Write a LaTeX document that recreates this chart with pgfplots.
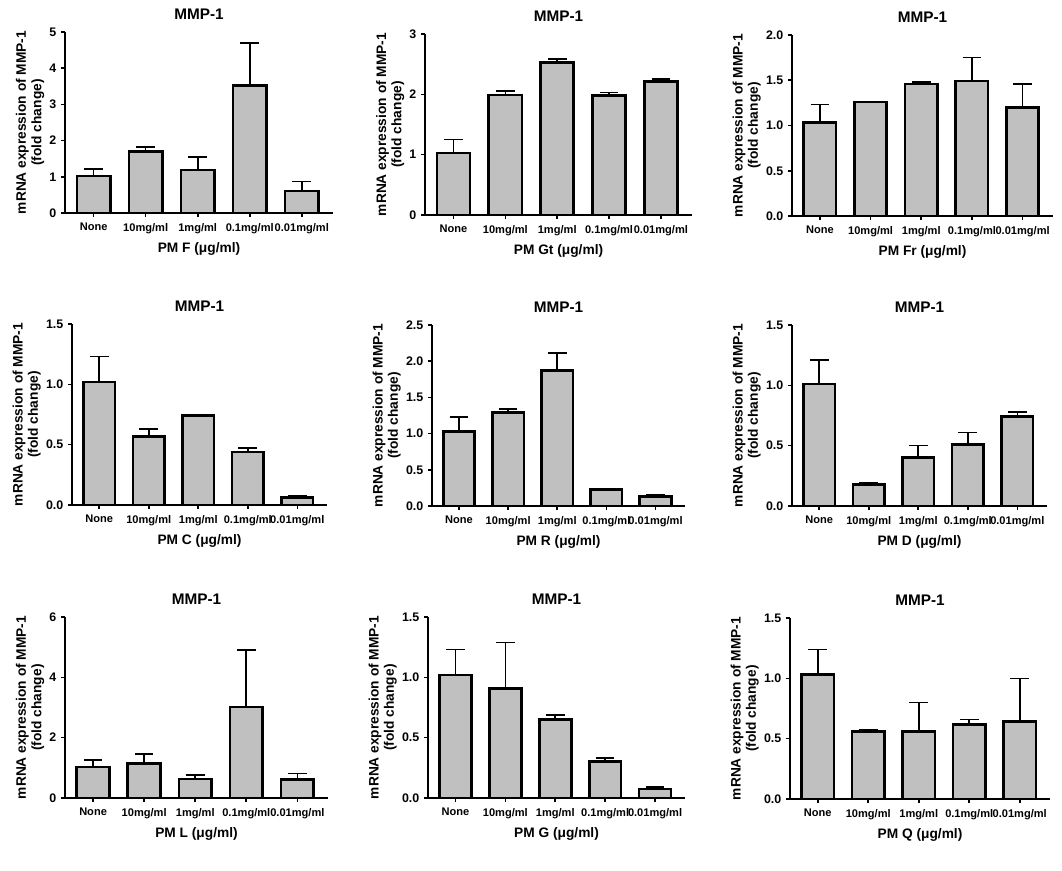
\documentclass[border=0pt]{standalone}
\usepackage{fontspec}
\setmainfont{Liberation Sans}
\usepackage{pgfplots}
\pgfplotsset{compat=1.18}
\definecolor{barfill}{RGB}{192,192,192}

\pgfplotsset{
  prism/.style={
    scale only axis, height=135.75pt, anchor=south west,
    axis x line=bottom, axis y line=left,
    axis line style={-, line width=1.2pt},
    ymin=0, xmin=-0.55, xmax=4.6,
    xtick={0,...,4},
    xticklabels={None,10mg/ml,1mg/ml,0.1mg/ml,0.01mg/ml},
    tick align=outside, major tick length=3pt,
    tick style={line width=1.2pt, black},
    x tick label style={font=\bfseries\fontsize{8.3}{10}\selectfont, yshift=-1pt},
    y tick label style={font=\bfseries\fontsize{9.3}{11}\selectfont},
    /pgf/number format/assume math mode=true,
    title={MMP-1},
    title style={font=\bfseries\fontsize{11.5}{13}\selectfont},
    ylabel={mRNA expression of MMP-1\\(fold change)},
    ylabel style={yshift=-3pt, align=center,
      font=\bfseries\fontsize{10.3}{11.5}\selectfont},
    xlabel style={font=\bfseries\fontsize{10.3}{12}\selectfont},
  },
  dec/.style={yticklabel style={/pgf/number format/.cd, fixed, fixed zerofill, precision=1}},
  bars/.style={
    ybar, bar width=0.64, fill=barfill, draw=black, line width=2pt,
    error bars/.cd, y dir=plus, y explicit,
    error bar style={line width=1.2pt, black},
    error mark options={rotate=90, mark size=7pt, line width=1.2pt, black},
  },
}

\begin{document}
\begin{tikzpicture}
\useasboundingbox (0,0) rectangle (796.5pt,652.5pt);

% row 1
\begin{axis}[prism, at={(48.75pt,492.75pt)}, width=201pt,
  ymax=5, ytick={0,1,2,3,4,5}, xlabel={PM F (μg/ml)}]
\addplot[bars] coordinates {
  (0,1.02) +- (0,0.20)
  (1,1.69) +- (0,0.14)
  (2,1.19) +- (0,0.36)
  (3,3.52) +- (0,1.18)
  (4,0.61) +- (0,0.26)
};
\end{axis}

\begin{axis}[prism, at={(318.75pt,491.25pt)}, width=200.25pt,
  ymax=3, ytick={0,1,2,3}, xlabel={PM Gt (μg/ml)}]
\addplot[bars] coordinates {
  (0,1.03) +- (0,0.22)
  (1,1.99) +- (0,0.07)
  (2,2.53) +- (0,0.06)
  (3,1.98) +- (0,0.05)
  (4,2.21) +- (0,0.04)
};
\end{axis}

\begin{axis}[prism, dec, at={(594pt,490.5pt)}, width=195.75pt,
  ymax=2, ytick={0,0.5,1,1.5,2}, xlabel={PM Fr (μg/ml)}]
\addplot[bars] coordinates {
  (0,1.03) +- (0,0.20)
  (1,1.26) +- (0,0.00)
  (2,1.46) +- (0,0.02)
  (3,1.49) +- (0,0.26)
  (4,1.20) +- (0,0.26)
};
\end{axis}

% row 2
\begin{axis}[prism, dec, at={(54pt,273.75pt)}, width=191.25pt,
  ymax=1.5, ytick={0,0.5,1,1.5}, xlabel={PM C (μg/ml)}]
\addplot[bars] coordinates {
  (0,1.02) +- (0,0.21)
  (1,0.57) +- (0,0.06)
  (2,0.74) +- (0,0.01)
  (3,0.44) +- (0,0.03)
  (4,0.064) +- (0,0.014)
};
\end{axis}

\begin{axis}[prism, dec, at={(324pt,273pt)}, width=189.75pt,
  ymax=2.5, ytick={0,0.5,1,1.5,2,2.5}, xlabel={PM R (μg/ml)}]
\addplot[bars] coordinates {
  (0,1.03) +- (0,0.20)
  (1,1.29) +- (0,0.05)
  (2,1.87) +- (0,0.24)
  (3,0.23) +- (0,0.005)
  (4,0.13) +- (0,0.02)
};
\end{axis}

\begin{axis}[prism, dec, at={(594pt,273pt)}, width=191.25pt,
  ymax=1.5, ytick={0,0.5,1,1.5}, xlabel={PM D (μg/ml)}]
\addplot[bars] coordinates {
  (0,1.01) +- (0,0.20)
  (1,0.18) +- (0,0.01)
  (2,0.40) +- (0,0.10)
  (3,0.51) +- (0,0.10)
  (4,0.74) +- (0,0.04)
};
\end{axis}

% row 3
\begin{axis}[prism, at={(48.75pt,54pt)}, width=197.25pt,
  ymax=6, ytick={0,2,4,6}, xlabel={PM L (μg/ml)}]
\addplot[bars] coordinates {
  (0,1.03) +- (0,0.23)
  (1,1.14) +- (0,0.31)
  (2,0.63) +- (0,0.14)
  (3,3.02) +- (0,1.88)
  (4,0.61) +- (0,0.20)
};
\end{axis}

\begin{axis}[prism, dec, at={(321pt,54pt)}, width=192.75pt,
  ymax=1.5, ytick={0,0.5,1,1.5}, xlabel={PM G (μg/ml)}]
\addplot[bars] coordinates {
  (0,1.02) +- (0,0.21)
  (1,0.91) +- (0,0.38)
  (2,0.65) +- (0,0.04)
  (3,0.30) +- (0,0.03)
  (4,0.075) +- (0,0.015)
};
\end{axis}

\begin{axis}[prism, dec, at={(592.5pt,53.25pt)}, width=195pt,
  ymax=1.5, ytick={0,0.5,1,1.5}, xlabel={PM Q (μg/ml)}]
\addplot[bars] coordinates {
  (0,1.03) +- (0,0.21)
  (1,0.56) +- (0,0.01)
  (2,0.56) +- (0,0.24)
  (3,0.62) +- (0,0.04)
  (4,0.64) +- (0,0.36)
};
\end{axis}
\end{tikzpicture}
\end{document}
